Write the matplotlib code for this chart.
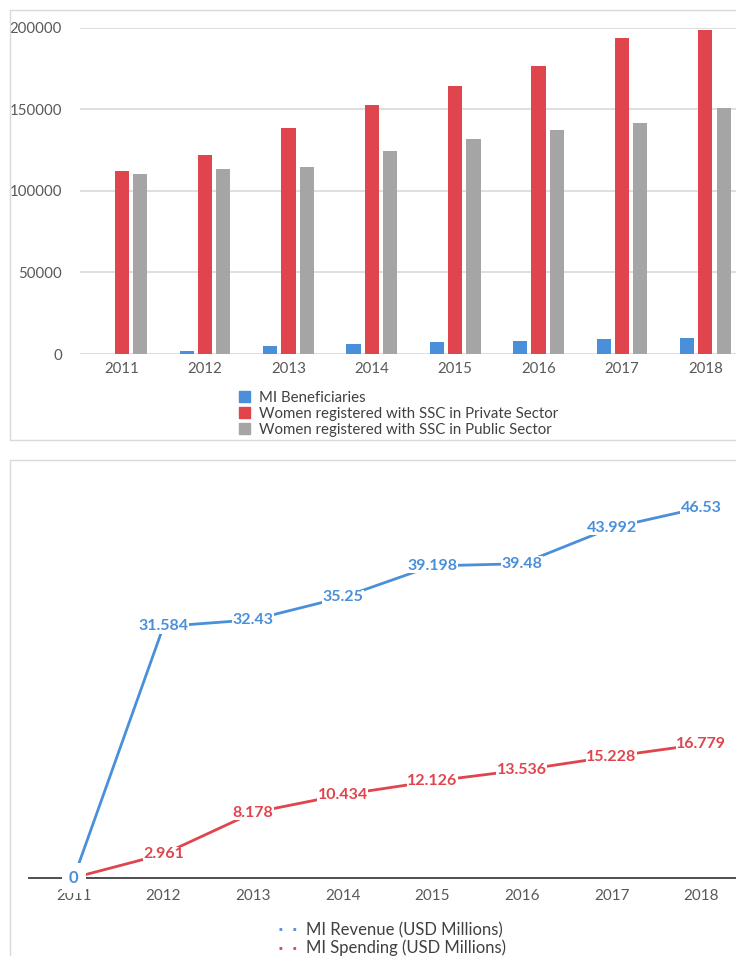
import matplotlib.pyplot as plt
import numpy as np
from matplotlib.patches import Rectangle, Patch
from matplotlib.lines import Line2D

plt.rcParams['font.family'] = ['Lato', 'DejaVu Sans']

years = ['2011', '2012', '2013', '2014', '2015', '2016', '2017', '2018']

# top chart: registrations
mi_beneficiaries = [0, 1800, 4700, 5900, 7300, 8000, 9200, 9800]
women_private = [112400, 121900, 138600, 152500, 164500, 176500, 193700, 198600]
women_public = [110600, 113300, 114900, 124700, 131800, 137200, 141800, 150800]

# bottom chart: revenue / spending
mi_revenue = [0, 31.584, 32.43, 35.25, 39.198, 39.48, 43.992, 46.53]
mi_spending = [0, 2.961, 8.178, 10.434, 12.126, 13.536, 15.228, 16.779]

blue = '#4A8FDA'
red = '#E0444C'
gray = '#A5A5A5'
grid_c = '#D9D9D9'
text_c = '#404040'

W, H = 736, 956
fig = plt.figure(figsize=(W / 100, H / 100), dpi=100)


def fx(px):
    return px / W


def fy(py):
    return 1 - py / H


# panel frames
fig.patches.append(Rectangle((fx(10), fy(440)), fx(800), fy(10) - fy(440),
                             transform=fig.transFigure, fill=False,
                             edgecolor=grid_c, lw=1))
fig.patches.append(Rectangle((fx(10), fy(1000)), fx(800), fy(460) - fy(1000),
                             transform=fig.transFigure, fill=False,
                             edgecolor=grid_c, lw=1))

# ---------------- top: grouped bars ----------------
ax1 = fig.add_axes([fx(80), fy(354), fx(747 - 80), fy(27.7) - fy(354)])
x = np.arange(len(years))
bw = 0.17
off = 0.22
ax1.bar(x - off, mi_beneficiaries, bw, color=blue, zorder=3)
ax1.bar(x, women_private, bw, color=red, zorder=3)
ax1.bar(x + off, women_public, bw, color=gray, zorder=3)
ax1.set_xlim(-0.5, 7.5)
ax1.set_ylim(0, 200000)
ax1.set_yticks([0, 50000, 100000, 150000, 200000])
ax1.set_xticks(x)
ax1.set_xticklabels(years)
ax1.grid(axis='y', color=grid_c, lw=1.2, zorder=0)
ax1.set_axisbelow(True)
for s in ax1.spines.values():
    s.set_visible(False)
ax1.tick_params(axis='both', length=0, labelsize=10.8, colors='#595959')
ax1.tick_params(axis='y', pad=13)
ax1.tick_params(axis='x', pad=6)
ax1.patch.set_alpha(0)

handles1 = [Patch(color=blue), Patch(color=red), Patch(color=gray)]
labels1 = ['MI Beneficiaries', 'Women registered with SSC in Private Sector',
           'Women registered with SSC in Public Sector']
fig.legend(handles1, labels1, loc='upper left',
           bbox_to_anchor=(fx(239), fy(391)), frameon=False, fontsize=10.8,
           handlelength=0.75, handleheight=0.75, handletextpad=0.55,
           labelspacing=0.12, borderpad=0, borderaxespad=0, labelcolor=text_c)

# ---------------- bottom: lines ----------------
ax2 = fig.add_axes([fx(29), fy(877.7), fx(746 - 29), fy(480) - fy(877.7)])
ax2.plot(x, mi_revenue, color=blue, lw=2, zorder=2, clip_on=False)
ax2.plot(x, mi_spending, color=red, lw=2, zorder=2, clip_on=False)
ax2.set_xlim(-0.5, 7.5)
ax2.set_ylim(0, 50)
ax2.set_xticks(x)
ax2.set_xticklabels(years)
ax2.set_yticks([])
for k in ['top', 'right', 'left']:
    ax2.spines[k].set_visible(False)
ax2.spines['bottom'].set_color('#404040')
ax2.spines['bottom'].set_linewidth(1.3)
ax2.tick_params(axis='x', length=0, labelsize=11, colors='#595959', pad=8)
ax2.patch.set_alpha(0)

# data labels; the zero label gets a larger white box (it masks the axis)
for vals, c in [(mi_spending, red), (mi_revenue, blue)]:
    for xi, v in zip(x, vals):
        pad = 5 if v == 0 else 0.3
        ax2.text(xi, v, f'{v:g}', color=c, fontsize=12 if v == 0 else 11.5,
                 fontweight='bold', ha='center', va='center', zorder=4,
                 bbox=dict(facecolor='white', edgecolor='none', pad=pad))

handles2 = [Line2D([], [], color=blue, lw=2, linestyle=(0, (1, 4))),
            Line2D([], [], color=red, lw=2, linestyle=(0, (1, 4)))]
labels2 = ['MI Revenue (USD Millions)', 'MI Spending (USD Millions)']
fig.legend(handles2, labels2, loc='upper left',
           bbox_to_anchor=(fx(279), fy(922)), frameon=False, fontsize=12,
           handlelength=1.1, handletextpad=0.5, labelspacing=0.1,
           borderpad=0, borderaxespad=0, labelcolor=text_c)

fig.savefig('out.png', dpi=100)
